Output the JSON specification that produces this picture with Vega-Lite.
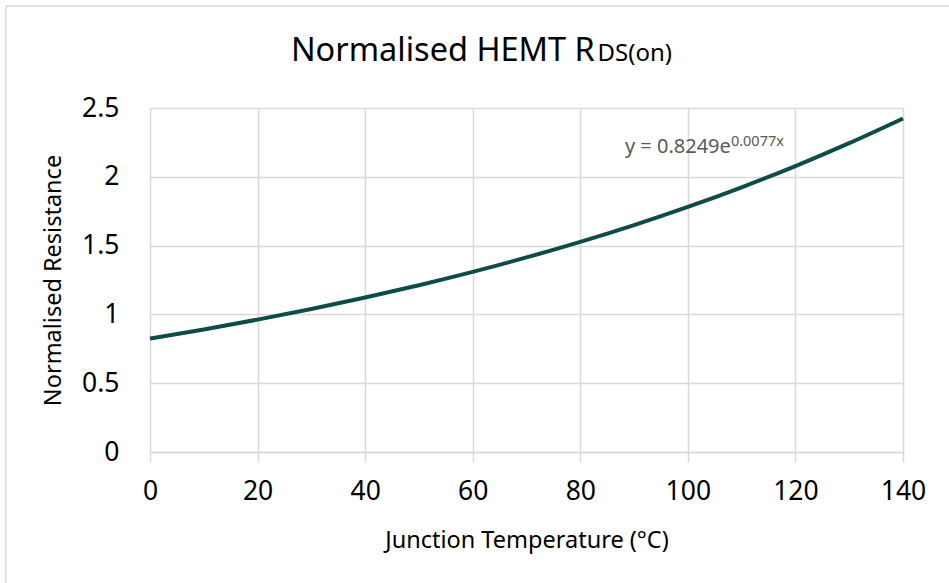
{
  "$schema": "https://vega.github.io/schema/vega-lite/v6.json",
  "width": 753,
  "height": 344,
  "autosize": {"type": "none"},
  "padding": {"left": 150, "top": 108, "right": 46, "bottom": 131},
  "background": "white",
  "config": {
    "font": "Noto Sans",
    "view": {"stroke": null},
    "axis": {
      "gridColor": "#d9d9d9",
      "gridWidth": 1.5,
      "labelColor": "#000000",
      "titleColor": "#000000",
      "titleFontWeight": "normal",
      "labelFont": "Noto Sans",
      "titleFont": "Noto Sans"
    }
  },
  "layer": [
    {
      "data": {
        "values": [
          {"temp": 0, "res": 0.8249},
          {"temp": 10, "res": 0.8909},
          {"temp": 20, "res": 0.9622},
          {"temp": 30, "res": 1.0392},
          {"temp": 40, "res": 1.1224},
          {"temp": 50, "res": 1.2122},
          {"temp": 60, "res": 1.3092},
          {"temp": 70, "res": 1.414},
          {"temp": 80, "res": 1.5272},
          {"temp": 90, "res": 1.6494},
          {"temp": 100, "res": 1.7814},
          {"temp": 110, "res": 1.924},
          {"temp": 120, "res": 2.078},
          {"temp": 130, "res": 2.2443},
          {"temp": 140, "res": 2.4239}
        ]
      },
      "mark": {"type": "line", "color": "#0e4d47", "strokeWidth": 4, "interpolate": "monotone", "clip": false},
      "encoding": {
        "x": {
          "field": "temp",
          "type": "quantitative",
          "scale": {"domain": [0, 140], "nice": false, "zero": false},
          "axis": {
            "title": "Junction Temperature (°C)",
            "values": [0, 20, 40, 60, 80, 100, 120, 140],
            "domain": true,
            "domainColor": "#d9d9d9",
            "domainWidth": 1.5,
            "ticks": true,
            "tickColor": "#d9d9d9",
            "tickWidth": 1.5,
            "tickSize": 10,
            "labelFontSize": 26.5,
            "labelPadding": 16,
            "labelFlush": false,
            "titleFontSize": 23.5,
            "titlePadding": 24
          }
        },
        "y": {
          "field": "res",
          "type": "quantitative",
          "scale": {"domain": [0, 2.5], "nice": false},
          "axis": {
            "title": "Normalised Resistance",
            "values": [0, 0.5, 1, 1.5, 2, 2.5],
            "format": "~g",
            "domain": false,
            "ticks": false,
            "labelFontSize": 26.5,
            "labelPadding": 31,
            "labelFlush": false,
            "titleFontSize": 23.5,
            "titlePadding": 16
          }
        }
      }
    },
    {
      "data": {"values": [{"edge": "top"}]},
      "mark": {"type": "rule", "color": "#d9d9d9", "strokeWidth": 1.5, "clip": false},
      "encoding": {
        "x": {"datum": -26.8, "type": "quantitative"},
        "x2": {"datum": 160},
        "y": {"datum": 3.241, "type": "quantitative"}
      }
    },
    {
      "data": {"values": [{"edge": "left"}]},
      "mark": {"type": "rule", "color": "#d9d9d9", "strokeWidth": 1.5, "clip": false},
      "encoding": {
        "x": {"datum": -26.8, "type": "quantitative"},
        "y": {"datum": 3.241, "type": "quantitative"},
        "y2": {"datum": -1.2}
      }
    },
    {
      "data": {"values": [{"label": "Normalised HEMT R"}]},
      "mark": {"type": "text", "fontSize": 32.5, "align": "left", "baseline": "alphabetic", "color": "#000000", "clip": false},
      "encoding": {
        "x": {"datum": 26.2, "type": "quantitative"},
        "y": {"datum": 2.842, "type": "quantitative"},
        "text": {"field": "label"}
      }
    },
    {
      "data": {"values": [{"label": "DS(on)"}]},
      "mark": {"type": "text", "fontSize": 24, "align": "left", "baseline": "alphabetic", "color": "#000000", "clip": false},
      "encoding": {
        "x": {"datum": 83.2, "type": "quantitative"},
        "y": {"datum": 2.842, "type": "quantitative"},
        "text": {"field": "label"}
      }
    },
    {
      "data": {"values": [{"label": "y = 0.8249e"}]},
      "mark": {"type": "text", "fontSize": 20, "align": "left", "baseline": "alphabetic", "color": "#595959"},
      "encoding": {
        "x": {"datum": 88.3, "type": "quantitative"},
        "y": {"datum": 2.173, "type": "quantitative"},
        "text": {"field": "label"}
      }
    },
    {
      "data": {"values": [{"label": "0.0077x"}]},
      "mark": {"type": "text", "fontSize": 14.5, "align": "left", "baseline": "alphabetic", "color": "#595959"},
      "encoding": {
        "x": {"datum": 108.0, "type": "quantitative"},
        "y": {"datum": 2.224, "type": "quantitative"},
        "text": {"field": "label"}
      }
    }
  ]
}
